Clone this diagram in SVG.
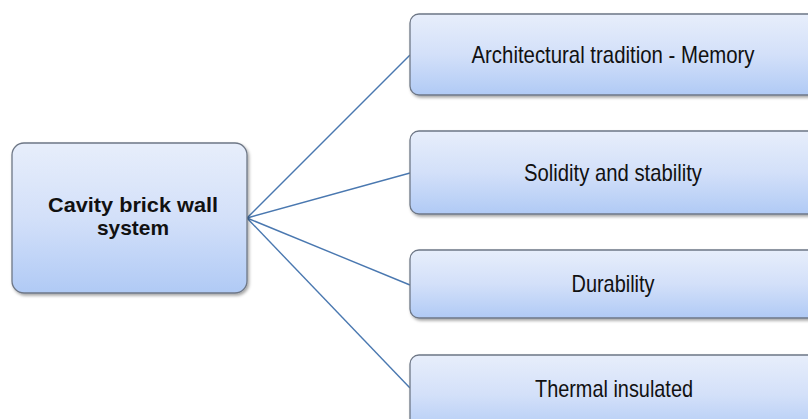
<svg xmlns="http://www.w3.org/2000/svg" width="808" height="419" viewBox="0 0 808 419">
<defs>
<linearGradient id="g" x1="0" y1="0" x2="0" y2="1">
<stop offset="0" stop-color="#e7eefb"/>
<stop offset="0.5" stop-color="#d3e0f9"/>
<stop offset="1" stop-color="#b0caf5"/>
</linearGradient>
<filter id="sh" x="-5%" y="-10%" width="115%" height="130%">
<feDropShadow dx="1.5" dy="2" stdDeviation="1.5" flood-color="#000" flood-opacity="0.35"/>
</filter>
</defs>
<style>
.box{fill:url(#g);stroke:#6e7786;stroke-width:1.3;filter:url(#sh)}
.t{font-family:"Liberation Sans",Arial,sans-serif;font-size:24px;fill:#111;text-anchor:middle}
.b{font-family:"Liberation Sans",Arial,sans-serif;font-size:21px;font-weight:bold;fill:#111;text-anchor:middle}
.c{stroke:#4a78b0;stroke-width:1.4;fill:none}
</style>
<rect width="808" height="419" fill="#fff"/>
<g id="connectors">
<line class="c" x1="247" y1="218" x2="410" y2="55"/>
<line class="c" x1="247" y1="218" x2="410" y2="173"/>
<line class="c" x1="247" y1="218" x2="410" y2="285"/>
<line class="c" x1="247" y1="218" x2="410" y2="388"/>
</g>
<g id="root">
<rect class="box" x="12" y="143" width="235" height="150" rx="12"/>
<text class="b" x="133" y="212" textLength="170" lengthAdjust="spacingAndGlyphs">Cavity brick wall</text>
<text class="b" x="133" y="235" textLength="72" lengthAdjust="spacingAndGlyphs">system</text>
</g>
<g id="n1">
<rect class="box" x="410" y="14" width="420" height="81" rx="9"/>
<text class="t" x="613" y="63" textLength="283" lengthAdjust="spacingAndGlyphs">Architectural tradition - Memory</text>
</g>
<g id="n2">
<rect class="box" x="410" y="131" width="420" height="83" rx="9"/>
<text class="t" x="613" y="181" textLength="178" lengthAdjust="spacingAndGlyphs">Solidity and stability</text>
</g>
<g id="n3">
<rect class="box" x="410" y="250" width="420" height="68" rx="9"/>
<text class="t" x="613" y="292" textLength="83" lengthAdjust="spacingAndGlyphs">Durability</text>
</g>
<g id="n4">
<rect class="box" x="410" y="355" width="420" height="80" rx="9"/>
<text class="t" x="614" y="397" textLength="158" lengthAdjust="spacingAndGlyphs">Thermal insulated</text>
</g>
</svg>
